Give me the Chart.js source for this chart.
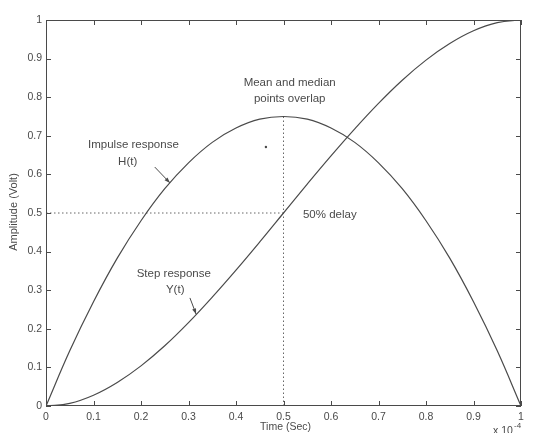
<!DOCTYPE html>
<html>
<head>
<meta charset="utf-8">
<script src="https://cdn.jsdelivr.net/npm/chart.js@4.4.1/dist/chart.umd.min.js"></script>
<style>
	html, body { margin: 0; padding: 0; background: #fff; }
	#wrap { width: 539px; height: 433px; }
</style>
</head>
<body>
<div id="wrap"><canvas id="plot"></canvas></div>
<script>
// time axis (x 10^-4 sec)
const times = [0, 0.05, 0.1, 0.15, 0.2, 0.25, 0.3, 0.35, 0.4, 0.45, 0.5, 0.55, 0.6, 0.65, 0.7, 0.75, 0.8, 0.85, 0.9, 0.95, 1];
// impulse response H(t)
const impulseVals = [0, 0.143, 0.27, 0.383, 0.48, 0.563, 0.63, 0.683, 0.72, 0.743, 0.75, 0.743, 0.72, 0.683, 0.63, 0.563, 0.48, 0.383, 0.27, 0.143, 0];
// step response Y(t)
const stepVals = [0, 0.007, 0.028, 0.061, 0.104, 0.156, 0.216, 0.282, 0.352, 0.425, 0.5, 0.575, 0.648, 0.718, 0.784, 0.844, 0.896, 0.939, 0.972, 0.993, 1];
// dotted guides
const delayH = [{x: 0, y: 0.5}, {x: 0.5, y: 0.5}];
const delayV = [{x: 0.5, y: 0}, {x: 0.5, y: 0.75}];
const strayDot = [{x: 0.463, y: 0.671}];

const tickVals = [0, 0.1, 0.2, 0.3, 0.4, 0.5, 0.6, 0.7, 0.8, 0.9, 1];

// annotations, in data units
const notes = [
	{text: "Mean and median", x: 0.513, y: 0.837},
	{text: "points overlap", x: 0.513, y: 0.797},
	{text: "Impulse response", x: 0.184, y: 0.676},
	{text: "H(t)", x: 0.172, y: 0.632},
	{text: "Step response", x: 0.269, y: 0.342},
	{text: "Y(t)", x: 0.272, y: 0.300},
	{text: "50% delay", x: 0.541, y: 0.495, align: "left"},
];
const arrows = [
	{from: [0.229, 0.619], to: [0.261, 0.578]},
	{from: [0.303, 0.280], to: [0.316, 0.238]},
];

const ink = "#4a4a4a";
const font = "Liberation Sans";

function fmtTick(v) {
	return Math.round(v * 10) / 10 + "";
}

const decor = {
	id: "decor",
	afterDatasetsDraw(chart) {
		const ctx = chart.ctx;
		const xs = chart.scales.x;
		const ys = chart.scales.y;
		const a = chart.chartArea;
		ctx.save();
		ctx.strokeStyle = ink;
		ctx.lineWidth = 1;
		ctx.strokeRect(a.left + 0.5, a.top + 0.5, a.right - a.left - 1, a.bottom - a.top - 1);
		// inward tick marks on all four sides
		ctx.beginPath();
		for (const v of tickVals) {
			const px = Math.round(xs.getPixelForValue(v)) + 0.5;
			ctx.moveTo(px, a.bottom); ctx.lineTo(px, a.bottom - 5);
			ctx.moveTo(px, a.top); ctx.lineTo(px, a.top + 5);
			const py = Math.round(ys.getPixelForValue(v)) + 0.5;
			ctx.moveTo(a.left, py); ctx.lineTo(a.left + 5, py);
			ctx.moveTo(a.right, py); ctx.lineTo(a.right - 5, py);
		}
		ctx.stroke();

		ctx.fillStyle = ink;
		ctx.font = "11.5px '" + font + "'";
		ctx.textBaseline = "middle";
		for (const n of notes) {
			ctx.textAlign = n.align || "center";
			ctx.fillText(n.text, xs.getPixelForValue(n.x), ys.getPixelForValue(n.y));
		}
		for (const ar of arrows) {
			const x1 = xs.getPixelForValue(ar.from[0]), y1 = ys.getPixelForValue(ar.from[1]);
			const x2 = xs.getPixelForValue(ar.to[0]), y2 = ys.getPixelForValue(ar.to[1]);
			ctx.beginPath();
			ctx.moveTo(x1, y1); ctx.lineTo(x2, y2);
			ctx.stroke();
			const ang = Math.atan2(y2 - y1, x2 - x1);
			ctx.beginPath();
			ctx.moveTo(x2, y2);
			ctx.lineTo(x2 - 6 * Math.cos(ang - 0.35), y2 - 6 * Math.sin(ang - 0.35));
			ctx.lineTo(x2 - 6 * Math.cos(ang + 0.35), y2 - 6 * Math.sin(ang + 0.35));
			ctx.closePath();
			ctx.fill();
		}

		// axis titles
		ctx.font = "10.5px '" + font + "'";
		ctx.textAlign = "center";
		ctx.fillText("Time (Sec)", (a.left + a.right) / 2 + 2, a.bottom + 21);
		ctx.textAlign = "left";
		ctx.fillText("x 10", a.right - 28, a.bottom + 25);
		ctx.font = "8px '" + font + "'";
		ctx.fillText("-4", a.right - 7, a.bottom + 20);
		ctx.font = "11px '" + font + "'";
		ctx.translate(14, (a.top + a.bottom) / 2 - 1);
		ctx.rotate(-Math.PI / 2);
		ctx.textAlign = "center";
		ctx.fillText("Amplitude (Volt)", 0, 0);
		ctx.restore();
	}
};

new Chart(document.getElementById("plot"), {
	type: "scatter",
	data: {
		datasets: [
			{
				label: "Impulse response H(t)",
				data: times.map((t, i) => ({x: t, y: impulseVals[i]})),
				showLine: true,
				tension: 0.4,
				borderColor: ink,
				borderWidth: 1.2,
				pointRadius: 0,
			},
			{
				label: "Step response Y(t)",
				data: times.map((t, i) => ({x: t, y: stepVals[i]})),
				showLine: true,
				tension: 0.4,
				borderColor: ink,
				borderWidth: 1.2,
				pointRadius: 0,
			},
			{
				label: "50% level",
				data: delayH,
				showLine: true,
				borderColor: "#666",
				borderWidth: 1,
				borderDash: [1.5, 2.5],
				pointRadius: 0,
			},
			{
				label: "50% time",
				data: delayV,
				showLine: true,
				borderColor: "#666",
				borderWidth: 1,
				borderDash: [1.5, 2.5],
				pointRadius: 0,
			},
			{
				label: "dot",
				data: strayDot,
				pointRadius: 1.2,
				backgroundColor: ink,
				borderWidth: 0,
			},
		]
	},
	options: {
		responsive: true,
		maintainAspectRatio: false,
		animation: false,
		layout: {padding: {left: 4, right: 18, top: 20, bottom: 0}},
		plugins: {
			legend: {display: false},
			tooltip: {enabled: false},
		},
		scales: {
			x: {
				type: "linear",
				min: 0,
				max: 1,
				afterFit: (s) => { s.height = 27; },
				afterBuildTicks: (s) => { s.ticks = tickVals.map(v => ({value: v})); },
				grid: {display: false, drawTicks: false},
				border: {display: false},
				ticks: {
					callback: fmtTick,
					color: ink,
					padding: 5,
					maxRotation: 0,
					autoSkip: false,
					font: {family: font, size: 10.5},
				},
			},
			y: {
				type: "linear",
				min: 0,
				max: 1,
				afterFit: (s) => { s.width = 42; },
				afterBuildTicks: (s) => { s.ticks = tickVals.map(v => ({value: v})); },
				grid: {display: false, drawTicks: false},
				border: {display: false},
				ticks: {
					callback: fmtTick,
					color: ink,
					padding: 4,
					autoSkip: false,
					font: {family: font, size: 10.5},
				},
			},
		},
	},
	plugins: [decor],
});
</script>
</body>
</html>
